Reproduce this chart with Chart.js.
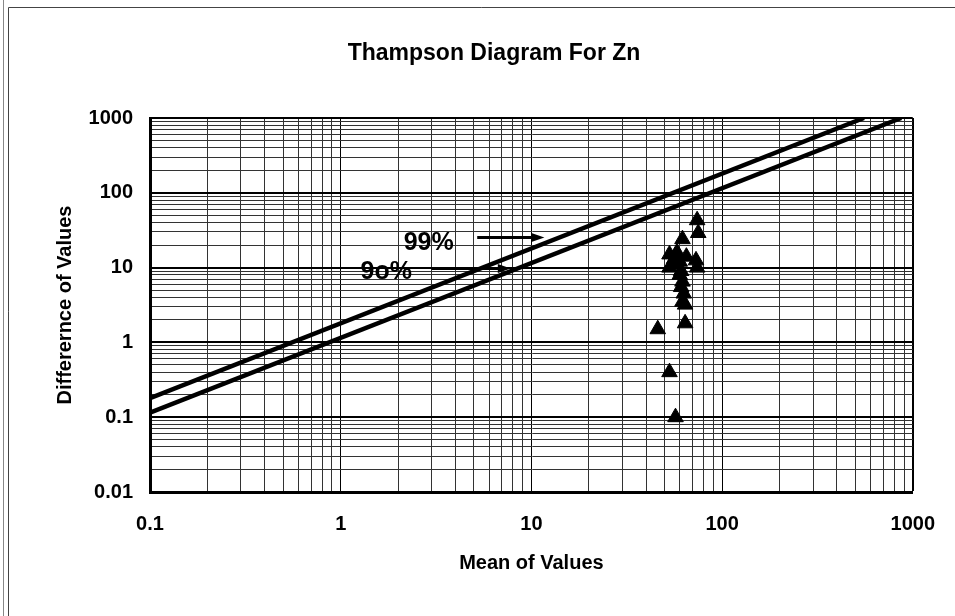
<!DOCTYPE html>
<html>
<head>
<meta charset="utf-8">
<script src="https://cdn.jsdelivr.net/npm/chart.js@4.4.0/dist/chart.umd.min.js"></script>
<style>
  html, body { margin: 0; padding: 0; background: #fff; }
  #wrap { width: 955px; height: 616px; }
</style>
</head>
<body>
<div id="wrap"><canvas id="thampsonChart" width="955" height="616"></canvas></div>
<script>
// mean of the two values (x) and their difference (y), one entry per sample pair
var meanValues = [74, 75, 62, 53, 56, 58, 60, 65, 53, 57, 61, 73, 74, 60, 62, 61, 63, 62, 64, 64, 46, 53, 57];
var diffValues = [43, 29, 24, 15, 13, 16, 12, 14, 10, 11, 9, 12.5, 10, 8, 6.5, 5.5, 4.5, 3.5, 3.2, 1.8, 1.5, 0.4, 0.1];

// 99% and 90% limit lines (end points)
var limit99X = [0.1, 555];
var limit99Y = [0.18, 1000];
var limit90X = [0.1, 870];
var limit90Y = [0.115, 1000];

var xTickLabels = ['0.1', '1', '10', '100', '1000'];
var yTickLabels = ['0.01', '0.1', '1', '10', '100', '1000'];

var chartTitle = 'Thampson Diagram For Zn';

// labels with arrows, in data units
var arrowNotes = [
    { text: '99%', textX: 2.14, textY: 17.3, fromX: 5.2, toX: 11.7, y: 25.6 },
    { text: '9o%', textX: 1.27, textY: 7.1, fromX: 3.0, toX: 7.8, y: 10 }
];

var FONT = '"Liberation Sans", Arial, sans-serif';

function logTicks(lo, hi) {
    var t = [];
    for (var e = lo; e < hi; e++) {
        for (var k = 1; k < 10; k++) {
            t.push({ value: Number((k * Math.pow(10, e)).toPrecision(3)) });
        }
    }
    t.push({ value: Math.pow(10, hi) });
    return t;
}

function isDecade(v) {
    var l = Math.log10(v);
    return Math.abs(l - Math.round(l)) < 1e-9;
}

function toPoints(xs, ys) {
    return xs.map(function (x, i) { return { x: x, y: ys[i] }; });
}

var frameAndNotes = {
    id: 'frameAndNotes',
    beforeDraw: function (chart) {
        var c = chart.ctx;
        c.save();
        c.fillStyle = '#fff';
        c.fillRect(0, 0, chart.width, chart.height);
        c.lineWidth = 1;
        c.strokeStyle = '#888';
        c.beginPath(); c.moveTo(3.5, 0); c.lineTo(3.5, chart.height); c.stroke();
        c.strokeStyle = '#444';
        c.beginPath(); c.moveTo(8.5, chart.height); c.lineTo(8.5, 7.5); c.lineTo(chart.width, 7.5); c.stroke();
        c.fillStyle = '#000';
        c.font = 'bold 23px ' + FONT;
        c.textAlign = 'center';
        c.textBaseline = 'alphabetic';
        c.fillText(chartTitle, 494, 60);
        c.restore();
    },
    afterDatasetsDraw: function (chart) {
        var xs = chart.scales.x, ys = chart.scales.y, c = chart.ctx;
        c.save();
        c.fillStyle = '#000';
        c.strokeStyle = '#000';
        arrowNotes.forEach(function (n) {
            c.font = 'bold 25px ' + FONT;
            c.textAlign = 'left';
            c.textBaseline = 'alphabetic';
            c.fillText(n.text, xs.getPixelForValue(n.textX), ys.getPixelForValue(n.textY));
            var x1 = xs.getPixelForValue(n.fromX);
            var x2 = xs.getPixelForValue(n.toX);
            var y = Math.round(ys.getPixelForValue(n.y)) + 0.5;
            c.lineWidth = 3;
            c.beginPath(); c.moveTo(x1, y); c.lineTo(x2 - 11, y); c.stroke();
            c.beginPath();
            c.moveTo(x2, y); c.lineTo(x2 - 13, y - 4.5); c.lineTo(x2 - 13, y + 4.5);
            c.closePath(); c.fill();
        });
        c.restore();
    }
};

new Chart(document.getElementById('thampsonChart'), {
    type: 'scatter',
    data: {
        datasets: [
            {
                label: 'Samples',
                data: toPoints(meanValues, diffValues),
                pointStyle: 'triangle',
                pointRadius: 9,
                pointHoverRadius: 9,
                backgroundColor: '#000',
                borderColor: '#000',
                borderWidth: 1
            },
            {
                label: '99%',
                data: toPoints(limit99X, limit99Y),
                showLine: true,
                pointRadius: 0,
                borderColor: '#000',
                borderWidth: 4.5
            },
            {
                label: '90%',
                data: toPoints(limit90X, limit90Y),
                showLine: true,
                pointRadius: 0,
                borderColor: '#000',
                borderWidth: 4.5
            }
        ]
    },
    options: {
        responsive: false,
        animation: false,
        devicePixelRatio: 1,
        layout: { padding: { top: 118, right: 41, left: 0, bottom: 0 } },
        plugins: {
            legend: { display: false },
            tooltip: { enabled: false },
            title: { display: false }
        },
        scales: {
            x: {
                type: 'logarithmic',
                min: 0.1,
                max: 1000,
                afterBuildTicks: function (s) { s.ticks = logTicks(-1, 3); },
                afterFit: function (s) { s.height = 124; },
                ticks: {
                    autoSkip: false,
                    maxRotation: 0,
                    padding: 20,
                    color: '#000',
                    font: { family: FONT, size: 20, weight: 'bold' },
                    callback: function (v) {
                        var s = String(v);
                        return xTickLabels.indexOf(s) >= 0 ? s : '';
                    }
                },
                grid: {
                    drawTicks: false,
                    color: function (ctx) { return isDecade(ctx.tick.value) ? '#000' : '#333'; },
                    lineWidth: function (ctx) { return ctx.tick.value === 1000 ? 2 : 1; }
                },
                border: { display: true, color: '#000', width: 3 },
                title: {
                    display: true,
                    text: 'Mean of Values',
                    color: '#000',
                    font: { family: FONT, size: 20, weight: 'bold' },
                    padding: { top: 0, bottom: 41 }
                }
            },
            y: {
                type: 'logarithmic',
                min: 0.01,
                max: 1000,
                afterBuildTicks: function (s) { s.ticks = logTicks(-2, 3); },
                afterFit: function (s) { s.width = 150; },
                ticks: {
                    autoSkip: false,
                    padding: 17,
                    color: '#000',
                    font: { family: FONT, size: 20, weight: 'bold' },
                    callback: function (v) {
                        var s = String(v);
                        return yTickLabels.indexOf(s) >= 0 ? s : '';
                    }
                },
                grid: {
                    drawTicks: false,
                    color: function (ctx) { return isDecade(ctx.tick.value) ? '#000' : '#333'; },
                    lineWidth: function (ctx) { return isDecade(ctx.tick.value) ? 2 : 1; }
                },
                border: { display: true, color: '#000', width: 3 },
                title: {
                    display: true,
                    text: 'Differernce of Values',
                    color: '#000',
                    font: { family: FONT, size: 20, weight: 'bold' },
                    padding: { top: 53, bottom: 0 }
                }
            }
        }
    },
    plugins: [frameAndNotes]
});
</script>
</body>
</html>
